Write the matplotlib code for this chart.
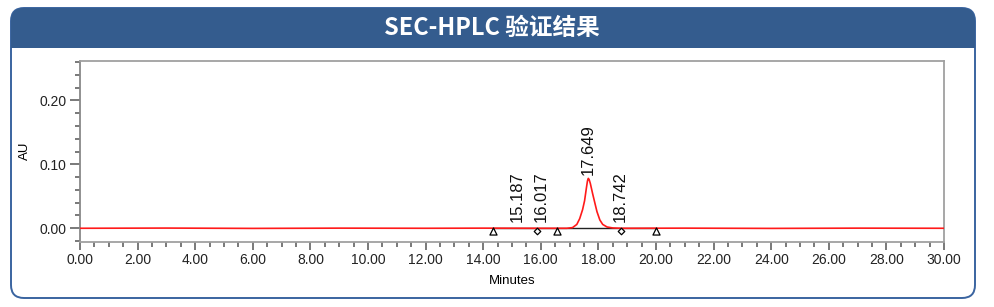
"""SEC-HPLC chromatogram panel."""

import matplotlib
matplotlib.use("Agg")
import matplotlib.pyplot as plt
from matplotlib.patches import FancyBboxPatch, Rectangle
from matplotlib.ticker import MultipleLocator, FormatStrFormatter

# chromatogram trace (minutes, AU)
trace_t = [0.0, 3.0, 6.0, 9.0, 12.0, 14.0, 16.0, 16.9, 17.1, 17.25, 17.35, 17.45, 17.52,
           17.58, 17.62, 17.65, 17.68, 17.72, 17.80, 17.88, 17.95, 18.05, 18.15, 18.30,
           18.50, 18.80, 21.0, 24.0, 27.0, 30.0]
trace_au = [0.0, 0.0003, -0.0002, 0.0002, 0.0, 0.0002, 0.0, 0.0, 0.001, 0.006, 0.015, 0.029,
            0.043, 0.062, 0.074, 0.078, 0.076, 0.070, 0.054, 0.039, 0.026, 0.013, 0.006,
            0.002, 0.0005, 0.0, 0.0002, -0.0002, 0.0002, 0.0]

peak_labels = ["15.187", "16.017", "17.649", "18.742"]
peak_label_au = [0.010, 0.010, 0.083, 0.010]

baseline_t = [14.33, 20.0]
triangle_t = [14.33, 16.57, 20.0]
diamond_t = [15.86, 18.78]

W, H = 994, 307
fig = plt.figure(figsize=(W / 100, H / 100), dpi=100)

# frame with header band
bg = fig.add_axes([0, 0, 1, 1])
bg.set_xlim(0, W)
bg.set_ylim(H, 0)
bg.axis("off")
box = FancyBboxPatch((11, 8), 964, 290, boxstyle="round,pad=0,rounding_size=13",
                     facecolor="white", edgecolor="#3a64a0", linewidth=1.4)
bg.add_patch(box)
band = Rectangle((0, 0), W, 48, facecolor="#345c8e", edgecolor="none")
bg.add_patch(band)
band.set_clip_path(box)
bg.text(492, 28, "SEC-HPLC 验证结果", color="white", fontsize=17, fontweight="bold",
        ha="center", va="center", family=["Noto Sans CJK SC", "DejaVu Sans"])

ax = fig.add_axes([80 / W, 1 - 241.7 / H, 864 / W, 181 / H])
ax.plot(trace_t, trace_au, color="#ff1a1a", linewidth=1.2, zorder=3)
ax.plot(baseline_t, [0, 0], color="#222222", linewidth=1.0, zorder=2)
ax.scatter(triangle_t, [-0.004] * len(triangle_t), marker="^", s=26, facecolor="white",
           edgecolor="black", linewidth=0.9, zorder=4)
ax.scatter(diamond_t, [-0.004] * len(diamond_t), marker="D", s=11, facecolor="white",
           edgecolor="black", linewidth=0.9, zorder=4)
for lab, y in zip(peak_labels, peak_label_au):
    ax.text(float(lab), y, lab, rotation=90, ha="center", va="bottom", fontsize=12,
            family="Liberation Sans", color="#111111")

ax.set_xlim(0, 30)
ax.set_ylim(-0.021, 0.262)
ax.xaxis.set_major_locator(MultipleLocator(2))
ax.xaxis.set_minor_locator(MultipleLocator(0.5))
ax.yaxis.set_major_locator(MultipleLocator(0.1))
ax.yaxis.set_minor_locator(MultipleLocator(0.02))
ax.xaxis.set_major_formatter(FormatStrFormatter("%.2f"))
ax.yaxis.set_major_formatter(FormatStrFormatter("%.2f"))
for sp in ax.spines.values():
    sp.set_color("#a0a0a0")
    sp.set_linewidth(1.3)
ax.spines["left"].set_color("#888888")
ax.tick_params(which="major", length=6, width=1.1, color="#555555", labelsize=10, pad=2)
ax.tick_params(axis="y", which="major", length=7.5)
ax.tick_params(which="minor", length=3.5, width=1.1, color="#555555")
for lbl in ax.get_xticklabels() + ax.get_yticklabels():
    lbl.set_family("Liberation Sans")
    lbl.set_color("#222222")
ax.set_xlabel("Minutes", fontsize=9.5, family="Liberation Sans", labelpad=6)
ax.set_ylabel("AU", fontsize=9.5, family="Liberation Sans", labelpad=6)

fig.savefig("out.png", dpi=100)
